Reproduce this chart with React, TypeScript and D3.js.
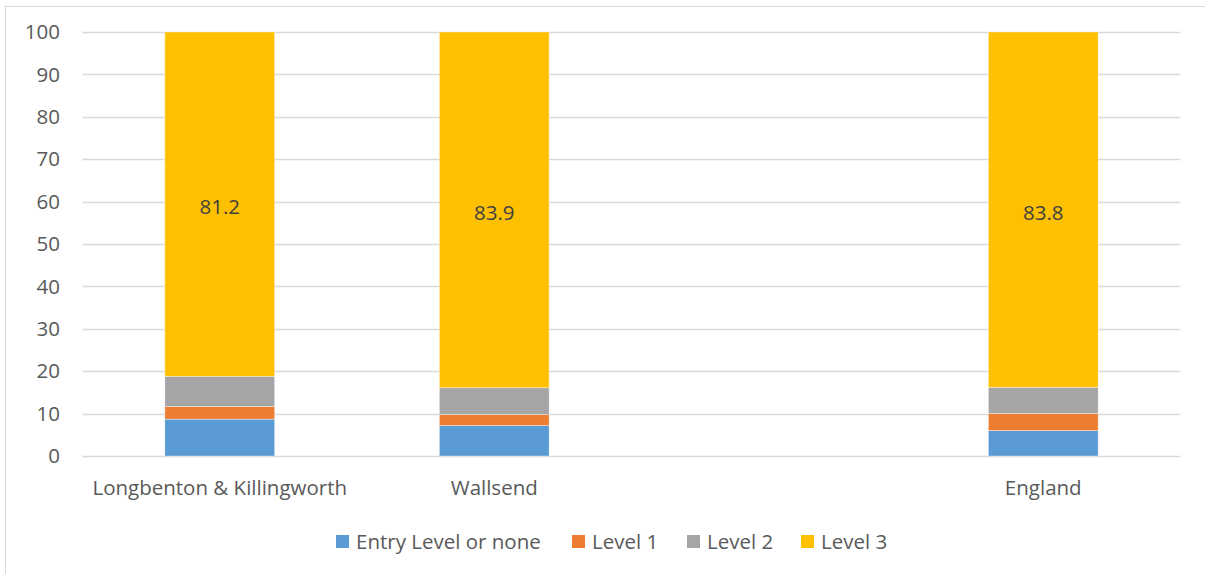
import React from "react";
import * as d3 from "d3";

const categories = ["Longbenton & Killingworth", "Wallsend", "", "England"];
const seriesNames = ["Entry Level or none", "Level 1", "Level 2", "Level 3"];
const entryLevel = [8.7, 7.2, null, 6.0];
const level1 = [3.0, 2.6, null, 4.0];
const level2 = [7.1, 6.3, null, 6.2];
const level3 = [81.2, 83.9, null, 83.8];
const colors = ["#5B9BD5", "#ED7D31", "#A5A5A5", "#FFC000"];
const yTicks = [0, 10, 20, 30, 40, 50, 60, 70, 80, 90, 100];

const W = 1205;
const H = 574;
const FONT = "'Open Sans', Lato, sans-serif";
const FS = 20.5;

export default function App() {
  const y = d3.scaleLinear().domain([0, 100]).range([456, 32]);
  const x0 = 82.5;
  const x1 = 1180.5;
  const x = d3.scaleBand<string>().domain(categories.map((c, i) => String(i))).range([x0, x1]);
  const rows = categories.map((c, i) => ({
    key: String(i),
    s0: entryLevel[i] ?? 0,
    s1: level1[i] ?? 0,
    s2: level2[i] ?? 0,
    s3: level3[i] ?? 0,
    has: level3[i] != null,
  }));
  const stack = d3.stack<any>().keys(["s0", "s1", "s2", "s3"])(rows);
  const band = x.bandwidth();
  const barW = band / 2.5;
  const cx = (i: number) => (x(String(i)) as number) + band / 2;

  const legendItems = [
    { x: 336, label: seriesNames[0] },
    { x: 572, label: seriesNames[1] },
    { x: 687, label: seriesNames[2] },
    { x: 801, label: seriesNames[3] },
  ];

  return (
    <svg width={W} height={H} style={{ position: "absolute", left: 0, top: 0 }} fontFamily={FONT}>
      <rect x={0} y={0} width={W} height={H} fill="#fff" />
      <rect x={5.5} y={6.5} width={1210} height={600} fill="none" stroke="#D9D9D9" strokeWidth={1} />
      {yTicks.map((t) => (
        <g key={t}>
          <line x1={x0} x2={x1} y1={Math.round(y(t)) + 0.5} y2={Math.round(y(t)) + 0.5} stroke="#D9D9D9" strokeWidth={1.3} />
          <text x={60} y={y(t)} dy="0.35em" textAnchor="end" fontSize={FS} fill="#595959">{t}</text>
        </g>
      ))}
      {stack.map((layer, si) => (
        <g key={si} fill={colors[si]}>
          {layer.map((d: any, i: number) =>
            rows[i].has ? (
              <rect
                key={i}
                x={cx(i) - barW / 2}
                width={barW}
                y={y(d[1])}
                height={y(d[0]) - y(d[1])}
                stroke="#ffffff"
                strokeOpacity={0.5}
                strokeWidth={0.75}
              />
            ) : null
          )}
        </g>
      ))}
      {stack[3].map((d: any, i: number) =>
        rows[i].has ? (
          <text key={i} x={cx(i)} y={y((d[0] + d[1]) / 2) + 3} dy="0.35em" textAnchor="middle" fontSize={FS} fill="#404040">
            {level3[i]!.toFixed(1)}
          </text>
        ) : null
      )}
      {categories.map((c, i) => (
        <text key={i} x={cx(i)} y={488} dy="0.35em" textAnchor="middle" fontSize={FS} fill="#595959">{c}</text>
      ))}
      {legendItems.map((it, i) => (
        <g key={i}>
          <rect x={it.x} y={535} width={13} height={13} fill={colors[i]} />
          <text x={it.x + 20} y={541.5} dy="0.35em" fontSize={FS} fill="#595959">{it.label}</text>
        </g>
      ))}
    </svg>
  );
}
